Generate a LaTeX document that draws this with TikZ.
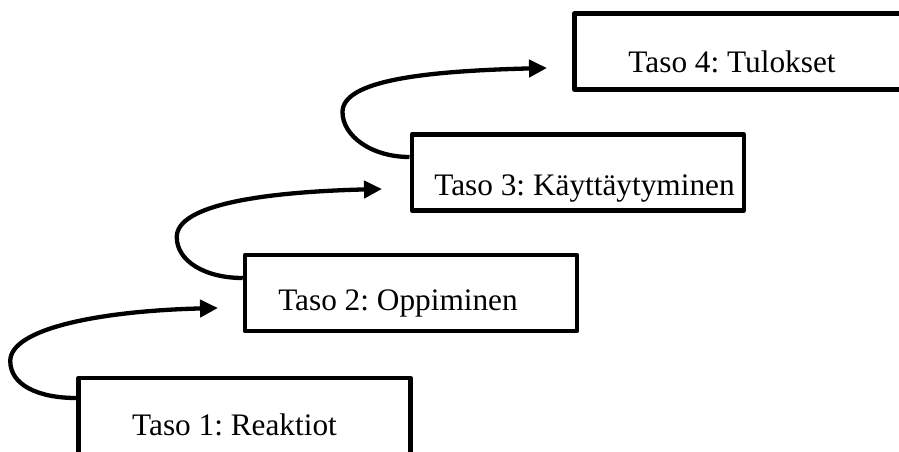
\documentclass[tikz,border=0pt]{standalone}
\usepackage{fontspec}
\setmainfont{Liberation Serif}
\usetikzlibrary{arrows.meta,calc}
\frenchspacing

\begin{document}
\begin{tikzpicture}[x=1pt,y=-1pt,
  levelbox/.style={draw=black,line width=4.5pt,line join=round,minimum width=332pt,minimum height=76pt,inner sep=0pt,fill=white},
  leveltext/.style={anchor=base,inner sep=0pt,font=\fontsize{31.3}{36}\selectfont},
  stepup/.style={line width=4.3pt,-{Triangle[length=18pt,width=17pt]}}]
\clip (0,0) rectangle (899,452);
\fill[white] (0,0) rectangle (899,452);

% level boxes
\node[levelbox] (box1) at (244.5,416) {};
\node[levelbox] (box2) at (411,293) {};
\node[levelbox] (box3) at (577.75,172.5) {};
\node[levelbox] (box4) at (740.5,51.5) {};

% labels
\node[leveltext] (t1) at (234.5,435) {Taso 1: Reaktiot};
\node[leveltext] (t2) at (398,310) {Taso 2: Oppiminen};
\node[leveltext] (t3) at (584.5,195) {Taso 3: Käyttäytyminen};
\node[leveltext] (t4) at (732,73) {Taso 4: Tulokset};

% arrow targets
\coordinate (tip1) at (218,308);
\coordinate (tip2) at (382,189);
\coordinate (tip3) at (547,68);

% curved arrows from one level up to the next
\coordinate (s1) at ($(box1.west)+(0,-18)$);
\coordinate (s2) at ($(box2.west)+(0,-15)$);
\coordinate (s3) at ($(box3.west)+(0,-15.5)$);
\coordinate (l1) at ($(s1)+(-66,-37)$);
\coordinate (l2) at ($(s2)+(-66,-41)$);
\coordinate (l3) at ($(s3)+(-67,-45)$);

\foreach \i in {1,2,3}{
  \draw[stepup] (s\i) .. controls +(-38,0) and +(0,24) .. (l\i)
                      .. controls +(0,-32) and +(-120,3) .. (tip\i);
}
\end{tikzpicture}
\end{document}
